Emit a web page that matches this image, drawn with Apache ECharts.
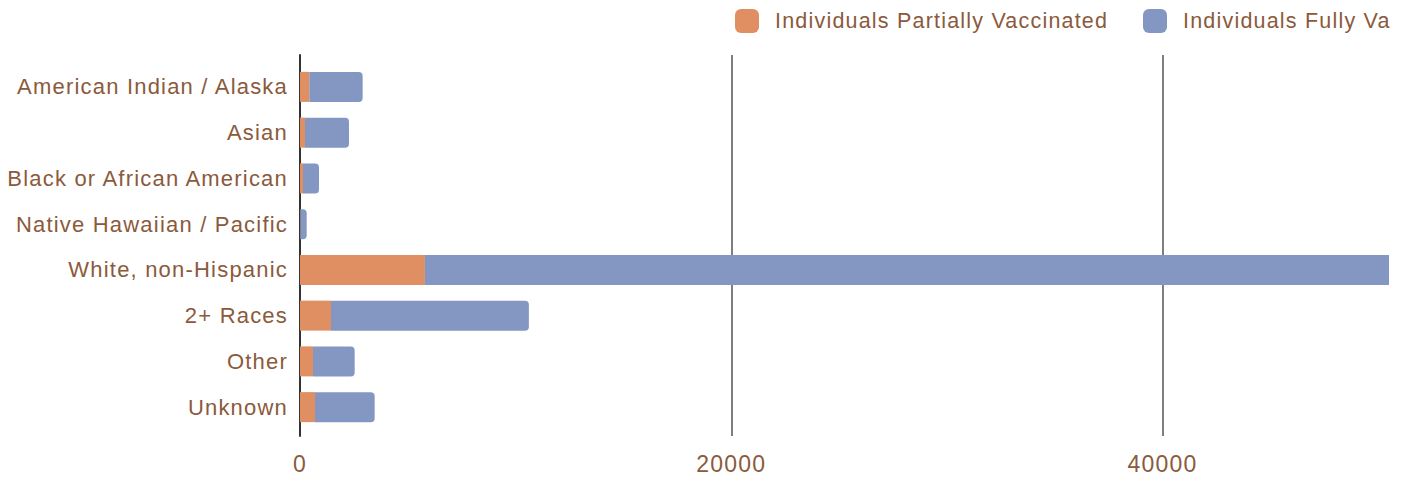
<!DOCTYPE html>
<html><head><meta charset="utf-8">
<script src="https://cdn.jsdelivr.net/npm/echarts@6/dist/echarts.min.js"></script>
<style>
html,body{margin:0;padding:0;background:#fff}
#c{width:1410px;height:478px}
#c svg text{letter-spacing:1.2px}
</style>
</head><body><div id="c"></div>
<script>
const categories = ["American Indian / Alaska","Asian","Black or African American","Native Hawaiian / Pacific","White, non-Hispanic","2+ Races","Other","Unknown"];
const partiallyVaccinated = [431, 232, 139, 20, 5794, 1437, 603, 695];
const fullyVaccinated = [2474, 2039, 742, 290, 46000, 9177, 1932, 2767];
const seriesNames = ["Individuals Partially Vaccinated", "Individuals Fully Vaccinated"];
const xTickInterval = 20000;
const xMax = 50500;

const textColor = '#8b5a3c';
const font = 'Liberation Sans, Arial, sans-serif';
const chart = echarts.init(document.getElementById('c'), null, {renderer:'svg'});
const fullData = fullyVaccinated.map((v, i) =>
  (partiallyVaccinated[i] + v > xMax) ? {value:v, itemStyle:{borderRadius:0}} : v);
const legendBase = {
  top:9, itemWidth:24, itemHeight:24, icon:'roundRect', padding:0
};
chart.setOption({
  animation:false,
  backgroundColor:'#fff',
  legend:[
    Object.assign({}, legendBase, {left:735, data:[seriesNames[0]],
      textStyle:{color:textColor, fontSize:21.5, fontFamily:font, padding:[0,0,0,11]}}),
    Object.assign({}, legendBase, {left:1143, data:[seriesNames[1]],
      textStyle:{color:textColor, fontSize:21.5, fontFamily:font, padding:[0,0,0,11],
        width:189, overflow:'truncate', ellipsis:''}})
  ],
  grid:[
    {left:300, right:21, top:55, bottom:42},
    {left:300, right:21, top:64, bottom:48}
  ],
  xAxis:[
    {gridIndex:0, type:'value', min:0, max:xMax, interval:xTickInterval,
     axisLine:{show:false}, axisTick:{show:false},
     axisLabel:{color:textColor, fontSize:23, fontFamily:font, margin:16, showMaxLabel:false,
       formatter:(v)=>String(v)},
     splitLine:{show:true, showMinLine:false, showMaxLine:false, lineStyle:{color:'#555', width:1.5}}},
    {gridIndex:1, type:'value', min:0, max:xMax, show:false}
  ],
  yAxis:[
    {gridIndex:0, type:'category', data:categories, inverse:true,
     axisLine:{show:true, lineStyle:{color:'#333', width:2}}, axisTick:{show:false}, axisLabel:{show:false}},
    {gridIndex:1, type:'category', data:categories, inverse:true,
     axisLine:{show:false}, axisTick:{show:false},
     axisLabel:{color:textColor, fontSize:22, fontFamily:font, margin:12, padding:[0,0,3,0]}}
  ],
  series:[
    {name:seriesNames[0], type:'bar', xAxisIndex:1, yAxisIndex:1, stack:'v', barWidth:30,
     itemStyle:{color:'#df8f61'}, data:partiallyVaccinated},
    {name:seriesNames[1], type:'bar', xAxisIndex:1, yAxisIndex:1, stack:'v', barWidth:30,
     itemStyle:{color:'#8397c2', borderRadius:[0,4,4,0]}, data:fullData}
  ]
});
</script></body></html>
